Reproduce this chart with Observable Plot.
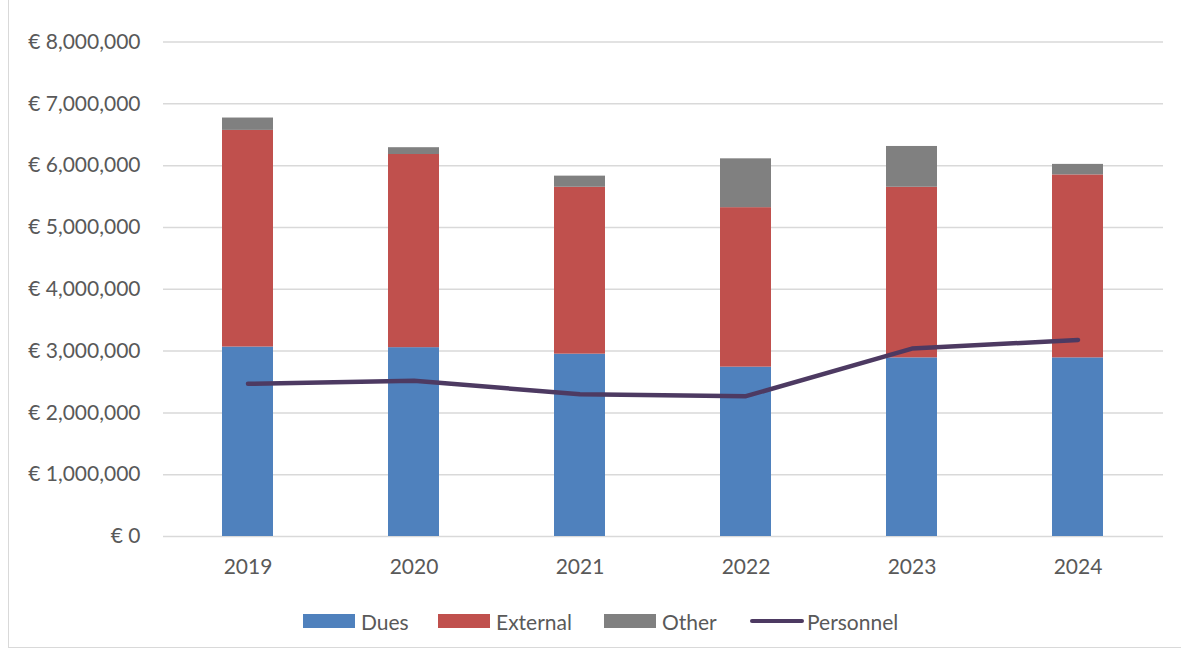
<!DOCTYPE html>
<html>
<head>
<meta charset="utf-8">
<script src="https://cdn.jsdelivr.net/npm/d3@7"></script>
<script src="https://cdn.jsdelivr.net/npm/@observablehq/plot@0.6"></script>
<style>
  html, body { margin: 0; padding: 0; background: #fff; overflow: hidden; }
  #wrap { position: relative; width: 1181px; height: 651px; font-family: Lato, "Open Sans", sans-serif; }
  #frame { position: absolute; left: 8px; top: -4px; width: 1200px; height: 652px; border: 1.5px solid #d9d9d9; box-sizing: border-box; }
  #chart { position: absolute; left: 0; top: 0; }
  .leg { position: absolute; top: 609px; height: 24px; display: flex; align-items: center; font-size: 21px; color: #595959; white-space: nowrap; }
  .sw { width: 52px; height: 14px; margin-right: 6px; }
  .ln { width: 54px; height: 4.7px; border-radius: 3px; margin-right: 3px; }
</style>
</head>
<body>
<div id="wrap">
  <div id="frame"></div>
  <div id="chart"></div>
</div>
<script>
const years = ["2019", "2020", "2021", "2022", "2023", "2024"];
const dues = [3065000, 3055000, 2950000, 2740000, 2890000, 2890000];
const external = [3505000, 3125000, 2700000, 2580000, 2760000, 2960000];
const other = [200000, 110000, 180000, 790000, 660000, 170000];
const personnel = [2470000, 2520000, 2300000, 2270000, 3040000, 3180000];
const yTicks = [0, 1000000, 2000000, 3000000, 4000000, 5000000, 6000000, 7000000, 8000000];
const seriesNames = ["Dues", "External", "Other"];
const seriesColors = ["#4f81bd", "#c0504d", "#808080"];
const lineName = "Personnel";
const lineColor = "#4d3a62";

const barData = [];
[dues, external, other].forEach((arr, si) => {
  arr.forEach((v, i) => barData.push({year: years[i], series: seriesNames[si], value: v}));
});
const lineData = personnel.map((v, i) => ({year: years[i], value: v}));

const fmt = d => "€ " + d3.format(",")(d);

const chart = Plot.plot({
  width: 1181,
  height: 590,
  marginLeft: 163,
  marginRight: 18,
  marginTop: 41.5,
  marginBottom: 54,
  style: {fontFamily: "Lato, 'Open Sans', sans-serif", fontSize: "21px", color: "#595959", background: "transparent"},
  x: {domain: years, paddingInner: 0.69, paddingOuter: 0.345, label: null, tickSize: 0, tickPadding: 23},
  y: {domain: [0, 8000000], ticks: yTicks, tickFormat: fmt, label: null, tickSize: 0, tickPadding: 23},
  color: {domain: seriesNames, range: seriesColors},
  marks: [
    Plot.ruleY(yTicks, {stroke: "#d9d9d9", strokeWidth: 1.5}),
    Plot.barY(barData, Plot.stackY({x: "year", y: "value", fill: "series", order: seriesNames})),
    Plot.line(lineData, {x: "year", y: "value", stroke: lineColor, strokeWidth: 4.5, strokeLinecap: "round", strokeLinejoin: "round"})
  ]
});
document.getElementById("chart").appendChild(chart);

// legend
const wrap = document.getElementById("wrap");
const legItems = [
  {name: seriesNames[0], color: seriesColors[0], x: 303, type: "sw"},
  {name: seriesNames[1], color: seriesColors[1], x: 438, type: "sw"},
  {name: seriesNames[2], color: seriesColors[2], x: 604, type: "sw"},
  {name: lineName, color: lineColor, x: 750, type: "ln"}
];
legItems.forEach(it => {
  const d = document.createElement("div");
  d.className = "leg";
  d.style.left = it.x + "px";
  const s = document.createElement("div");
  s.className = it.type;
  s.style.background = it.color;
  d.appendChild(s);
  const t = document.createElement("span");
  t.textContent = it.name;
  d.appendChild(t);
  wrap.appendChild(d);
});
</script>
</body>
</html>
